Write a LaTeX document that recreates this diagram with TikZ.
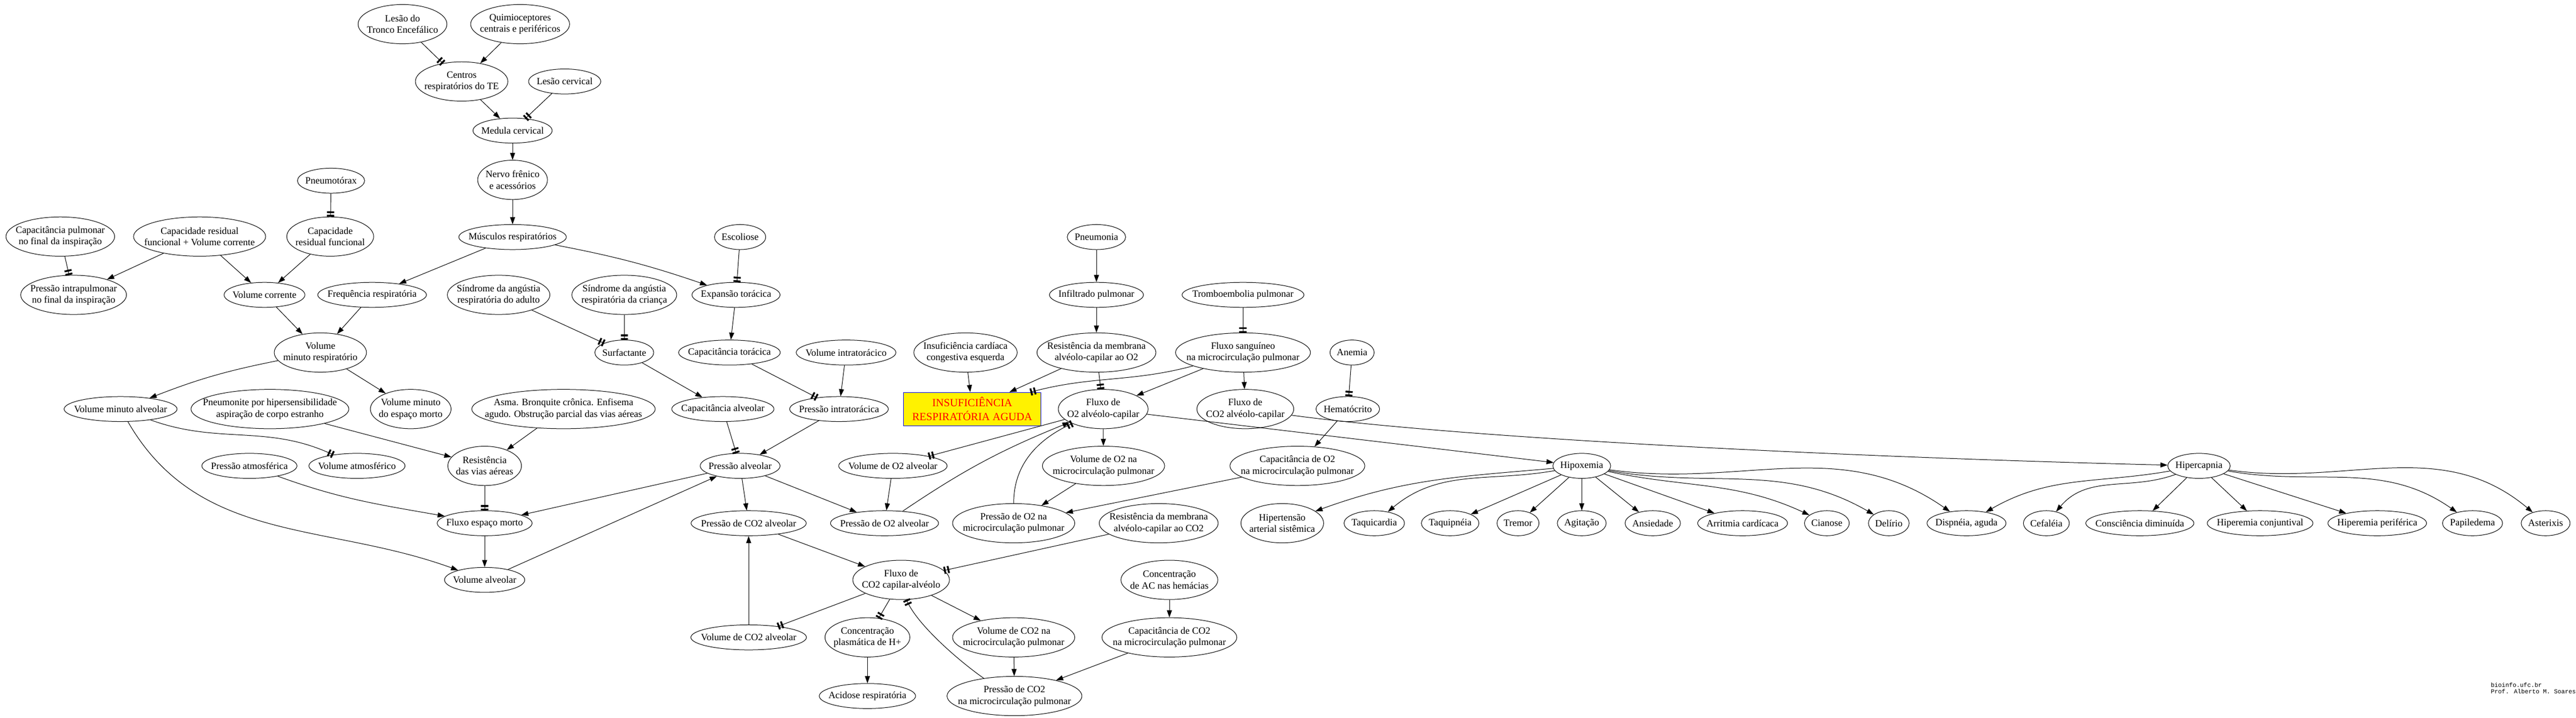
\documentclass[tikz,border=0pt]{standalone}
\usepackage{fontspec}
\setmainfont{Liberation Serif}
\newfontfamily\footfont{Liberation Mono}
\usetikzlibrary{arrows.meta,shapes.geometric,calc}
\newcommand\nf{\fontsize{13.5}{16}\selectfont}
\newcommand\EN[3]{%
  \node[lbl] (#1-t) at (#2) {#3};
  \path let \p1=($(#1-t.east)-(#1-t.west)$), \p2=($(#1-t.north)-(#1-t.south)$) in
    node[en,minimum width={1.1*\x1+14pt},minimum height={ifthenelse(\y2>22,55,35)}] (#1) at (#2) {};}
\begin{document}
\begin{tikzpicture}[x=2.3pt,y=-2.3pt,line width=0.75pt,
  lbl/.style={inner sep=0pt,align=center,font=\nf},
  en/.style={ellipse,draw,inner sep=0pt},
  ar/.style={-{Triangle[length=10pt,width=7pt]}},
  tt/.style={-{Rectangle[length=2.5pt,width=10pt,sep=2.5pt]Rectangle[length=2.5pt,width=10pt]}},
  boxst/.style={rectangle,draw=blue,fill=yellow,text=red,line width=0.9pt,minimum width=192pt,minimum height=46.5pt,inner sep=0pt,align=center,font=\fontsize{15.4}{19.5}\selectfont}]
\useasboundingbox (0,0) rectangle (1568,437);
\fill[white] (0,0) rectangle (1568,437);
% rank 1-4
\EN{lesaoTE}{245,14.7}{Lesão do\\Tronco Encefálico}
\EN{quimio}{316.6,14.7}{Quimioceptores\\centrais e periféricos}
\EN{centros}{281,49.6}{Centros\\respiratórios do TE}
\EN{lesaoCerv}{343.7,49.6}{Lesão cervical}
\EN{medula}{312,79.5}{Medula cervical}
\EN{nervo}{312,109.5}{Nervo frênico\\e acessórios}
\EN{pneumotorax}{201.5,110}{Pneumotórax}
% rank 5
\EN{musc}{312,144.3}{Músculos respiratórios}
\EN{capPulm}{36.7,144}{Capacitância pulmonar\\no final da inspiração}
\EN{crfvc}{121.5,144}{Capacidade residual\\funcional + Volume corrente}
\EN{crf}{201,144}{Capacidade\\residual funcional}
\EN{esc}{450.5,144.3}{Escoliose}
\EN{pneumonia}{667.4,144.3}{Pneumonia}
% rank 6
\EN{pip}{44.8,179.5}{Pressão intrapulmonar\\no final da inspiração}
\EN{vc}{161,179.5}{Volume corrente}
\EN{fr}{226.5,179.5}{Frequência respiratória}
\EN{sdraA}{303.5,179.5}{Síndrome da angústia\\respiratória do adulto}
\EN{sdraC}{380,179.5}{Síndrome da angústia\\respiratória da criança}
\EN{exp}{448,179.5}{Expansão torácica}
\EN{infil}{667.4,179.5}{Infiltrado pulmonar}
\EN{trombo}{756.6,179.5}{Tromboembolia pulmonar}
% rank 7
\EN{vmr}{195,214.6}{Volume\\minuto respiratório}
\EN{surf}{380,214.6}{Surfactante}
\EN{capTor}{444,214.6}{Capacitância torácica}
\EN{volIT}{515,214.6}{Volume intratorácico}
\EN{insCard}{587.7,214.6}{Insuficiência cardíaca\\congestiva esquerda}
\EN{resO2}{667.4,214.6}{Resistência da membrana\\alvéolo-capilar ao O2}
\EN{fluxSang}{756.6,214.6}{Fluxo sanguíneo\\na microcirculação pulmonar}
\EN{anemia}{823,214.6}{Anemia}
% rank 8
\EN{vma}{73.4,249}{Volume minuto alveolar}
\EN{pneumonite}{164.3,249}{Pneumonite por hipersensibilidade\\aspiração de corpo estranho}
\EN{vmem}{250,249}{Volume minuto\\do espaço morto}
\EN{asma}{343,249}{Asma. Bronquite crônica. Enfisema\\agudo. Obstrução parcial das vias aéreas}
\EN{capAlv}{440,249}{Capacitância alveolar}
\EN{pit}{510.7,249}{Pressão intratorácica}
\node[boxst] (box) at (591.8,249) {INSUFICIÊNCIA\\RESPIRATÓRIA AGUDA};
\EN{fluxO2}{671.5,249}{Fluxo de\\O2 alvéolo-capilar}
\EN{fluxCO2ac}{758,249}{Fluxo de\\CO2 alvéolo-capilar}
\EN{hemat}{820.4,249}{Hematócrito}
% rank 9
\EN{patm}{151.8,283.6}{Pressão atmosférica}
\EN{vatm}{217.3,283.6}{Volume atmosférico}
\EN{rva}{295,283.6}{Resistência\\das vias aéreas}
\EN{palv}{450.5,283.6}{Pressão alveolar}
\EN{vO2alv}{543.5,283.6}{Volume de O2 alveolar}
\EN{vO2mic}{671.7,283.6}{Volume de O2 na\\microcirculação pulmonar}
\EN{capO2}{789.7,283.6}{Capacitância de O2\\na microcirculação pulmonar}
\EN{hipox}{962.8,283.6}{Hipoxemia}
\EN{hipercap}{1338.5,283.6}{Hipercapnia}
% rank 10
\EN{fem}{295,318.5}{Fluxo espaço morto}
\EN{pCO2alv}{455.7,318.5}{Pressão de CO2 alveolar}
\EN{pO2alv}{538.4,318.5}{Pressão de O2 alveolar}
\EN{pO2mic}{617,318.5}{Pressão de O2 na\\microcirculação pulmonar}
\EN{resCO2}{705.3,318.5}{Resistência da membrana\\alvéolo-capilar ao CO2}
\EN{hipert}{780.5,318.5}{Hipertensão\\arterial sistêmica}
\EN{taquic}{836.5,318.5}{Taquicardia}
\EN{taquip}{882.7,318.5}{Taquipnéia}
\EN{tremor}{924,318.5}{Tremor}
\EN{agit}{962.8,318.5}{Agitação}
\EN{ansied}{1006,318.5}{Ansiedade}
\EN{arrit}{1060.7,318.5}{Arritmia cardícaca}
\EN{cian}{1112,318.5}{Cianose}
\EN{delir}{1149.7,318.5}{Delírio}
\EN{dispn}{1197,318.5}{Dispnéia, aguda}
\EN{cefal}{1245.6,318.5}{Cefaléia}
\EN{consc}{1302.5,318.5}{Consciência diminuída}
\EN{hipConj}{1375.7,318.5}{Hiperemia conjuntival}
\EN{hipPer}{1447,318.5}{Hiperemia periférica}
\EN{papil}{1505,318.5}{Papiledema}
\EN{aster}{1549.5,318.5}{Asterixis}
% rank 11-13
\EN{valv}{295,353}{Volume alveolar}
\EN{fluxCO2ca}{548.5,353}{Fluxo de\\CO2 capilar-alvéolo}
\EN{concAC}{711.8,353}{Concentração\\de AC nas hemácias}
\EN{vCO2alv}{455.7,388}{Volume de CO2 alveolar}
\EN{concH}{528,388}{Concentração\\plasmática de H+}
\EN{vCO2mic}{617,388}{Volume de CO2 na\\microcirculação pulmonar}
\EN{capCO2}{711.8,388}{Capacitância de CO2\\na microcirculação pulmonar}
\EN{acid}{528,423.7}{Acidose respiratória}
\EN{pCO2mic}{617.5,423.7}{Pressão de CO2\\na microcirculação pulmonar}
\node[anchor=north west,inner sep=0pt,align=left,font=\footfont\fontsize{8.5}{9}\selectfont] (foot) at (1516,415.5) {bioinfo.ufc.br\\Prof. Alberto M. Soares};
% edges
\draw[tt] (lesaoTE) -- (centros);
\draw[ar] (quimio) -- (centros);
\draw[ar] (centros) -- (medula);
\draw[tt] (lesaoCerv) -- (medula);
\draw[ar] (medula) -- (nervo);
\draw[ar] (nervo) -- (musc);
\draw[ar] (musc) -- (fr);
\draw[ar] (musc) to[bend left=4] (exp);
\draw[tt] (esc) -- (exp);
\draw[tt] (pneumotorax) -- (crf);
\draw[tt] (capPulm) -- (pip);
\draw[ar] (crfvc) -- (pip);
\draw[ar] (crfvc) -- (vc);
\draw[ar] (crf) -- (vc);
\draw[ar] (vc) -- (vmr);
\draw[ar] (fr) -- (vmr);
\draw[ar] (vmr) to[bend right=5] (vma);
\draw[ar] (vmr) -- (vmem);
\draw[tt] (sdraA) -- (surf);
\draw[tt] (sdraC) -- (surf);
\draw[ar] (exp) -- (capTor);
\draw[ar] (surf) -- (capAlv);
\draw[tt] (capTor) -- (pit);
\draw[ar] (volIT) -- (pit);
\draw[ar] (pit) -- (palv);
\draw[tt] (capAlv) -- (palv);
\draw[ar] (pneumonite) -- (rva);
\draw[ar] (asma) -- (rva);
\draw[tt] (rva) -- (fem);
\draw[tt] (vma) to[out=-20,in=155] (vatm);
\draw[ar] (vma) to[out=-60,in=160] (valv);
\draw[ar] (patm) to[out=-20,in=170] (fem);
\draw[ar] (palv) -- (fem);
\draw[ar] (fem) -- (valv);
\draw[ar] (valv) -- (palv);
\draw[ar] (palv) -- (pCO2alv);
\draw[ar] (palv) -- (pO2alv);
\draw[ar] (vO2alv) -- (pO2alv);
\draw[tt] (fluxO2) -- (vO2alv);
\draw[ar] (pO2alv) to[bend left=6] (fluxO2);
\draw[tt] (pO2mic) to[out=90,in=205] (fluxO2);
\draw[ar] (fluxO2) -- (vO2mic);
\draw[ar] (vO2mic) -- (pO2mic);
\draw[ar] (capO2) -- (pO2mic);
\draw[ar] (hemat) -- (capO2);
\draw[tt] (anemia) -- (hemat);
\draw[ar] (pneumonia) -- (infil);
\draw[ar] (infil) -- (resO2);
\draw[ar] (resO2) -- (box);
\draw[tt] (resO2) -- (fluxO2);
\draw[ar] (insCard) -- (box);
\draw[tt] (fluxSang.195) to[out=195,in=15] ([xshift=-15pt]box.north east);
\draw[ar] (fluxSang) -- (fluxO2);
\draw[ar] (fluxSang) -- (fluxCO2ac);
\draw[tt] (trombo) -- (fluxSang);
\draw[ar] (fluxO2) -- (hipox);
\draw[ar] (fluxCO2ac) .. controls (900,268) and (1150,279) .. (hipercap);
\draw[ar] (hipox) to[out=185,in=20] (hipert);
\draw[ar] (hipox) to[out=190,in=40] (taquic);
\draw[ar] (hipox) -- (taquip);
\draw[ar] (hipox) -- (tremor);
\draw[ar] (hipox) -- (agit);
\draw[ar] (hipox) -- (ansied);
\draw[ar] (hipox) -- (arrit);
\draw[ar] (hipox) to[out=-12,in=155] (cian);
\draw[ar] (hipox) to[out=-10,in=150] (delir);
\draw[ar] (hipox) to[out=-8,in=145] (dispn);
\draw[ar] (hipercap) to[out=190,in=30] (dispn);
\draw[ar] (hipercap) to[out=200,in=50] (cefal);
\draw[ar] (hipercap) -- (consc);
\draw[ar] (hipercap) -- (hipConj);
\draw[ar] (hipercap) -- (hipPer);
\draw[ar] (hipercap) to[out=-10,in=145] (papil);
\draw[ar] (hipercap) to[out=-8,in=140] (aster);
\draw[ar] (pCO2alv) -- (fluxCO2ca);
\draw[ar] (vCO2alv) -- (pCO2alv);
\draw[tt] (fluxCO2ca) -- (vCO2alv);
\draw[tt] (fluxCO2ca) -- (concH);
\draw[ar] (concH) -- (acid);
\draw[ar] (fluxCO2ca) -- (vCO2mic);
\draw[ar] (vCO2mic) -- (pCO2mic);
\draw[ar] (capCO2) -- (pCO2mic);
\draw[ar] (concAC) -- (capCO2);
\draw[tt] (pCO2mic.150) .. controls +(145:40pt) and +(-66:40pt) .. (fluxCO2ca.-75);
\draw[tt] (resCO2) -- (fluxCO2ca);
\end{tikzpicture}
\end{document}
